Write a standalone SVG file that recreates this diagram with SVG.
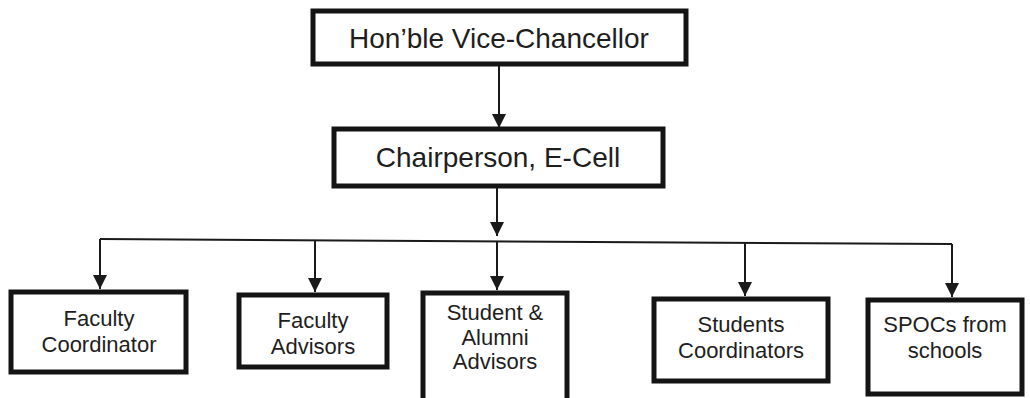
<svg xmlns="http://www.w3.org/2000/svg" width="1030" height="398" viewBox="0 0 1030 398">
<defs>
<marker id="ah" viewBox="0 0 10 10" refX="10" refY="5" markerWidth="8" markerHeight="7" markerUnits="strokeWidth" orient="auto">
<path d="M0,0 L10,5 L0,10 Z" fill="#1a1a1a"/>
</marker>
<style>
.box{fill:#ffffff;stroke:#141414;stroke-width:5}
.big{font-family:"Liberation Sans",Arial,sans-serif;font-size:28px;fill:#1e1e1e;text-anchor:middle}
.sm{font-family:"Liberation Sans",Arial,sans-serif;font-size:22px;fill:#1e1e1e;text-anchor:middle}
.ln{stroke:#1a1a1a;stroke-width:2;fill:none}
</style>
</defs>
<rect width="1030" height="398" fill="#ffffff"/>
<g id="connectors">
<line class="ln" x1="499" y1="65" x2="499" y2="128" marker-end="url(#ah)"/>
<line class="ln" x1="497" y1="187" x2="497" y2="236" marker-end="url(#ah)"/>
<line class="ln" x1="100" y1="239" x2="952" y2="244"/>
<line class="ln" x1="100" y1="239" x2="100" y2="289" marker-end="url(#ah)"/>
<line class="ln" x1="315" y1="240" x2="315" y2="292" marker-end="url(#ah)"/>
<line class="ln" x1="497" y1="241" x2="497" y2="290" marker-end="url(#ah)"/>
<line class="ln" x1="745" y1="243" x2="745" y2="296" marker-end="url(#ah)"/>
<line class="ln" x1="952" y1="244" x2="952" y2="297" marker-end="url(#ah)"/>
</g>
<g id="vc">
<rect class="box" x="313" y="11" width="373" height="53"/>
<text class="big" x="499" y="48">Hon’ble Vice-Chancellor</text>
</g>
<g id="chair">
<rect class="box" x="334" y="129" width="329" height="57"/>
<text class="big" x="498" y="167">Chairperson, E-Cell</text>
</g>
<g id="faculty-coordinator">
<rect class="box" x="11" y="292" width="175" height="80"/>
<text class="sm" x="99" y="326">Faculty</text>
<text class="sm" x="99" y="352">Coordinator</text>
</g>
<g id="faculty-advisors">
<rect class="box" x="239" y="295" width="148" height="72"/>
<text class="sm" x="313" y="328">Faculty</text>
<text class="sm" x="313" y="354">Advisors</text>
</g>
<g id="student-alumni">
<rect class="box" x="423" y="293" width="144" height="112"/>
<text class="sm" x="495" y="320">Student &amp;</text>
<text class="sm" x="495" y="345">Alumni</text>
<text class="sm" x="495" y="369">Advisors</text>
</g>
<g id="students-coordinators">
<rect class="box" x="654" y="299" width="174" height="82"/>
<text class="sm" x="741" y="332">Students</text>
<text class="sm" x="741" y="358">Coordinators</text>
</g>
<g id="spocs">
<rect class="box" x="868" y="300" width="154" height="94"/>
<text class="sm" x="945" y="332">SPOCs from</text>
<text class="sm" x="945" y="358">schools</text>
</g>
</svg>
